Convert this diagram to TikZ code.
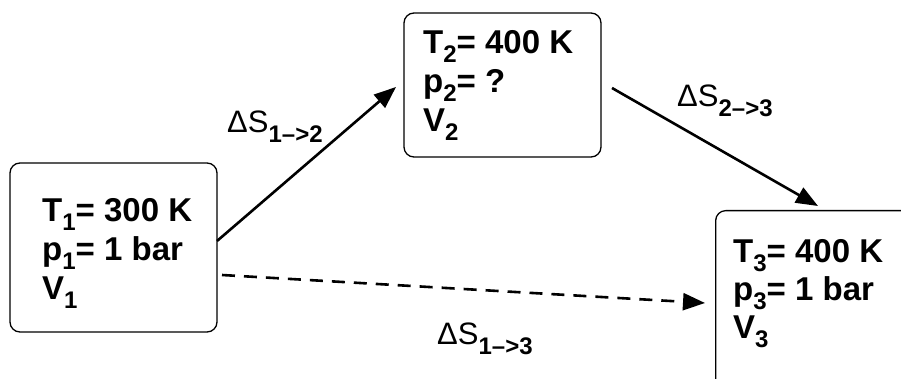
\documentclass[tikz,border=0pt]{standalone}
\usepackage{fontspec}
\setmainfont{Liberation Sans}
\usetikzlibrary{arrows.meta}
\newcommand{\bsub}[1]{\raisebox{-9pt}{\fontsize{24}{24}\selectfont #1}}
\newcommand{\lsub}[1]{\raisebox{-10pt}{\fontsize{24}{24}\selectfont\bfseries #1}}
\begin{document}
\begin{tikzpicture}[x=1pt,y=-1pt,
  statebox/.style={draw=black,line width=1.3pt,rounded corners=10pt,inner sep=0pt},
  boxtext/.style={anchor=base west,inner sep=0pt,font=\fontsize{33}{33}\selectfont\bfseries},
  lbl/.style={anchor=base west,inner sep=0pt},
  conn/.style={line width=2.6pt,-{Triangle[length=22pt,width=17pt]}}]
\useasboundingbox (0,0) rectangle (901,379);
\clip (0,0) rectangle (901,379);
% boxes
\node[statebox,minimum width=207pt,minimum height=169pt] (b1) at (113.5,247.5) {};
\node[statebox,minimum width=197pt,minimum height=144pt] (b2) at (502.5,85) {};
\node[statebox,minimum width=240pt,minimum height=240pt,anchor=north west] (b3) at (715,210) {};
% box texts
\node[boxtext] (t1a) at (42,222) {T\bsub{1}= 300 K};
\node[boxtext] (t1b) at (42,260) {p\bsub{1}= 1 bar};
\node[boxtext] (t1c) at (42,299) {V\bsub{1}};
\node[boxtext] (t2a) at (423,54) {T\bsub{2}= 400 K};
\node[boxtext] (t2b) at (423,93) {p\bsub{2}= ?};
\node[boxtext] (t2c) at (423,132) {V\bsub{2}};
\node[boxtext] (t3a) at (733,262) {T\bsub{3}= 400 K};
\node[boxtext] (t3b) at (733,300) {p\bsub{3}= 1 bar};
\node[boxtext] (t3c) at (733,338) {V\bsub{3}};
% connector end points
\coordinate (a1s) at (217,241);
\coordinate (a1e) at (396,87);
\coordinate (a2s) at (612,88);
\coordinate (a2e) at (818,206);
\coordinate (a3s) at (222,275);
\coordinate (a3e) at (705,303);
\draw[conn] (a1s) -- (a1e);
\draw[conn] (a2s) -- (a2e);
\draw[conn,dash pattern=on 13pt off 9pt] (a3s) -- (a3e);
% labels
\node[lbl] (l12) at (227,133) {\fontsize{31}{31}\selectfont ΔS\lsub{1–>2}};
\node[lbl] (l23) at (677,107) {\fontsize{31}{31}\selectfont ΔS\lsub{2–>3}};
\node[lbl] (l13) at (437,344) {\fontsize{31}{31}\selectfont ΔS\lsub{1–>3}};
\end{tikzpicture}
\end{document}
